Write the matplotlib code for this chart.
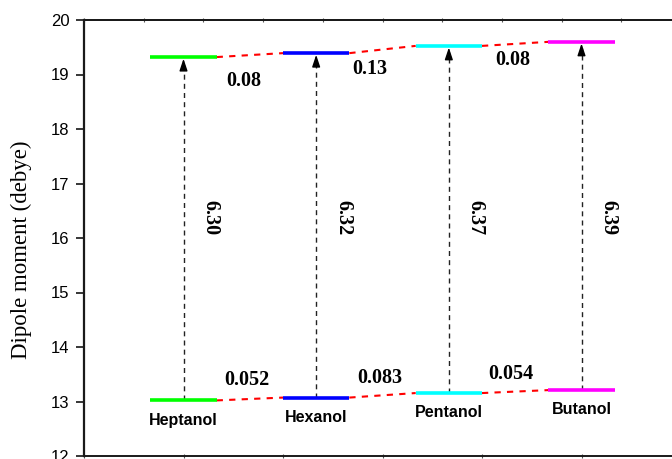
import numpy as np
import matplotlib
matplotlib.use("Agg")
import matplotlib.pyplot as plt
from matplotlib.ticker import MultipleLocator

# Alcohols and their dipole moments (debye)
alcohols = ["Heptanol", "Hexanol", "Pentanol", "Butanol"]
ground_dipole = [13.02, 13.072, 13.155, 13.209]
transition = [6.30, 6.32, 6.37, 6.39]
ground_steps = ["0.052", "0.083", "0.054"]
excited_steps = ["0.08", "0.13", "0.08"]
level_colors = ["#00ff00", "#0000ff", "#00ffff", "#ff00ff"]

ground = np.array(ground_dipole)
excited = ground + np.array(transition)
xpos = np.linspace(1, 5, len(alcohols))
half = 1.0 / 3.0

sans = "Liberation Sans"
serif = "Liberation Serif"

fig = plt.figure(figsize=(6.72, 4.59), dpi=100)
ax = fig.add_axes([84 / 672, 3 / 459, 597 / 672, 436 / 459])
ax.set_xlim(0, 6)
ax.set_ylim(12, 20)

# energy-level bars
for x, g, e, c in zip(xpos, ground, excited, level_colors):
    ax.plot([x - half, x + half], [g, g], color=c, lw=2.6, solid_capstyle="butt", zorder=4)
    ax.plot([x - half, x + half], [e, e], color=c, lw=2.6, solid_capstyle="butt", zorder=4)

# red dashed connectors between neighbouring levels
for i in range(len(alcohols) - 1):
    for lev in (ground, excited):
        ax.plot([xpos[i] + half, xpos[i + 1] - half], [lev[i], lev[i + 1]],
                color="#ff0000", lw=1.5, dashes=(3, 3), zorder=3)

# transition arrows
for x, g, e, d in zip(xpos, ground, excited, transition):
    ax.plot([x, x], [g, e - 0.12], color="#222222", lw=1.0, dashes=(3.6, 3.0), zorder=2)
    ax.annotate("", xy=(x, e - 0.03), xytext=(x, e - 0.2),
                arrowprops=dict(arrowstyle="-|>,head_length=0.6,head_width=0.2",
                                mutation_scale=12, color="black", lw=1.0,
                                shrinkA=0, shrinkB=0), zorder=5)
    ax.text(x + 0.27, 16.38, f"{d:.2f}", rotation=270, ha="center", va="center",
            fontsize=14.5, fontweight="bold", family=serif)

# category names
for x, g, name in zip(xpos, ground, alcohols):
    ax.text(x, g - 0.36, name, ha="center", va="center", fontsize=11.5,
            fontweight="bold", family=sans)

# step labels
excited_label_xy = [(1.61, 18.88), (2.87, 19.10), (4.31, 19.27)]
ground_label_xy = [(1.64, 13.39), (2.97, 13.44), (4.29, 13.50)]
for (lx, ly), s in zip(excited_label_xy, excited_steps):
    ax.text(lx, ly, s, ha="center", va="center", fontsize=14.5, fontweight="bold", family=serif)
for (lx, ly), s in zip(ground_label_xy, ground_steps):
    ax.text(lx, ly, s, ha="center", va="center", fontsize=14.5, fontweight="bold", family=serif)

# axes styling
for sp in ax.spines.values():
    sp.set_linewidth(1.4)
    sp.set_color("#1a1a1a")
ax.spines["left"].set_linewidth(1.6)

ax.yaxis.set_major_locator(MultipleLocator(1))
ax.tick_params(axis="y", direction="out", length=5.8, width=1.1, pad=4.5,
               labelsize=12, left=True, right=False)
for lab in ax.get_yticklabels():
    lab.set_family(sans)

ax.set_xticks(np.arange(0, 7, 1))
ax.tick_params(axis="x", direction="inout", length=3, width=0.8, colors="#555555",
               labelbottom=False, top=False)

top = ax.secondary_xaxis("top")
top.set_xticks(np.arange(0, 6.01, 0.6))
top.tick_params(direction="inout", length=3, width=0.8, colors="#555555", labeltop=False)
top.spines["top"].set_linewidth(1.4)
top.spines["top"].set_color("#1a1a1a")

ax.set_ylabel("Dipole moment (debye)", family=serif, fontsize=16.5)
ax.yaxis.set_label_coords(-0.087, 0.472)

fig.savefig("out.png", dpi=100)
